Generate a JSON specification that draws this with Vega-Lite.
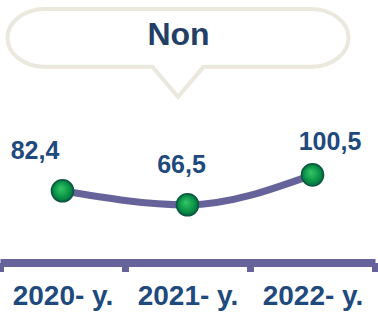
{
  "$schema": "https://vega.github.io/schema/vega-lite/v6.json",
  "width": 375,
  "height": 262.5,
  "autosize": {"type": "none"},
  "padding": {"left": 0, "top": 0, "right": 3, "bottom": 53.5},
  "background": "white",
  "config": {"view": {"stroke": null}},
  "data": {
    "values": [
      {"year": "2020- y.", "value": 82.4, "label": "82,4"},
      {"year": "2021- y.", "value": 66.5, "label": "66,5"},
      {"year": "2022- y.", "value": 100.5, "label": "100,5"}
    ]
  },
  "encoding": {
    "x": {
      "field": "year",
      "type": "nominal",
      "sort": null,
      "scale": {"domain": ["2020- y.", "2021- y.", "2022- y."], "paddingInner": 0, "paddingOuter": 0},
      "axis": {
        "title": null,
        "labelAngle": 0,
        "grid": false,
        "domainColor": "#65639a",
        "domainWidth": 8,
        "domainCap": "butt",
        "tickColor": "#65639a",
        "tickWidth": 7,
        "tickSize": 9,
        "tickBand": "extent",
        "labelFont": "Liberation Sans",
        "labelFontWeight": "bold",
        "labelFontSize": 28,
        "labelColor": "#1f4a7d",
        "labelPadding": 11,
        "labelBaseline": "top",
        "labelOverlap": false
      }
    },
    "y": {
      "field": "value",
      "type": "quantitative",
      "scale": {"domain": [1, 299]},
      "axis": null
    }
  },
  "layer": [
    {
      "transform": [{"filter": {"field": "year", "equal": "2021- y."}}],
      "mark": {
        "type": "point",
        "shape": "M -0.78 -0.17 L 0.78 -0.17 C 0.9015 -0.17 1 -0.0939 1 0 C 1 0.0939 0.9015 0.17 0.78 0.17 L 0.15 0.17 L 0 0.346 L -0.15 0.17 L -0.78 0.17 C -0.9015 0.17 -1 0.0939 -1 0 C -1 -0.0939 -0.9015 -0.17 -0.78 -0.17 Z",
        "size": 116281,
        "filled": true,
        "fill": "#ffffff",
        "stroke": "#ebe9dd",
        "strokeWidth": 4,
        "opacity": 1,
        "xOffset": -9.5
      },
      "encoding": {
        "y": {"datum": 256, "type": "quantitative"}
      }
    },
    {
      "transform": [{"filter": {"field": "year", "equal": "2021- y."}}],
      "mark": {
        "type": "text",
        "font": "Liberation Sans",
        "fontWeight": "bold",
        "fontSize": 32,
        "fill": "#233f66",
        "baseline": "middle",
        "align": "center",
        "dx": -9,
        "dy": -3
      },
      "encoding": {
        "y": {"datum": 256, "type": "quantitative"},
        "text": {"datum": "Non"}
      }
    },
    {
      "mark": {
        "type": "line",
        "interpolate": "monotone",
        "stroke": "#65639a",
        "strokeWidth": 7,
        "strokeCap": "round"
      }
    },
    {
      "mark": {
        "type": "point",
        "shape": "circle",
        "size": 490,
        "filled": true,
        "opacity": 1,
        "fill": {
          "gradient": "radial",
          "x1": 0.42, "y1": 0.38, "r1": 0,
          "x2": 0.5, "y2": 0.5, "r2": 0.55,
          "stops": [
            {"offset": 0, "color": "#36c565"},
            {"offset": 0.55, "color": "#0f9c4c"},
            {"offset": 1, "color": "#00643a"}
          ]
        },
        "stroke": "#0d5642",
        "strokeWidth": 1.5
      }
    },
    {
      "transform": [{"filter": {"field": "year", "equal": "2020- y."}}],
      "mark": {"type": "text", "font": "Liberation Sans", "fontWeight": "bold", "fontSize": 25, "fill": "#1f4a7d", "baseline": "alphabetic", "align": "center", "dx": -27.5, "dy": -32},
      "encoding": {"text": {"field": "label"}}
    },
    {
      "transform": [{"filter": {"field": "year", "equal": "2021- y."}}],
      "mark": {"type": "text", "font": "Liberation Sans", "fontWeight": "bold", "fontSize": 25, "fill": "#1f4a7d", "baseline": "alphabetic", "align": "center", "dx": -6, "dy": -32},
      "encoding": {"text": {"field": "label"}}
    },
    {
      "transform": [{"filter": {"field": "year", "equal": "2022- y."}}],
      "mark": {"type": "text", "font": "Liberation Sans", "fontWeight": "bold", "fontSize": 25, "fill": "#1f4a7d", "baseline": "alphabetic", "align": "center", "dx": 17.5, "dy": -24.5},
      "encoding": {"text": {"field": "label"}}
    }
  ]
}
